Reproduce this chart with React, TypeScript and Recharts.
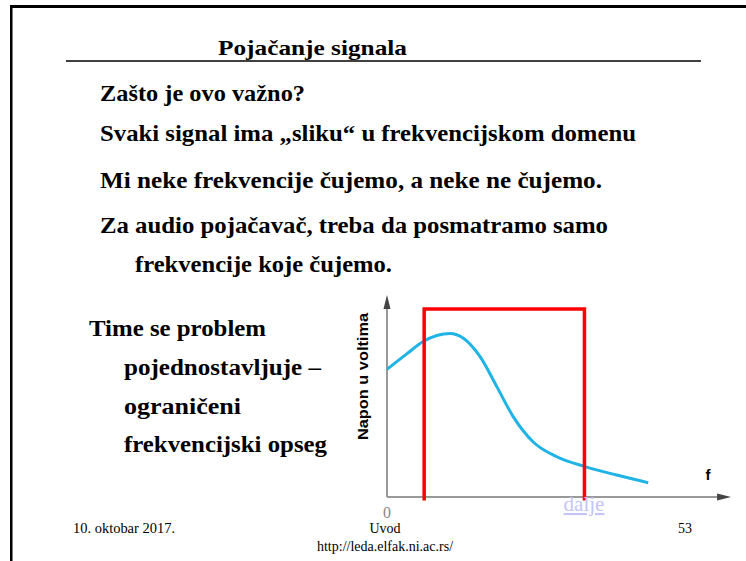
import React from 'react';
import { LineChart, Line, XAxis, YAxis, ReferenceLine, ReferenceDot } from 'recharts';

// Frequency response curve (arbitrary units: x 0..100, y 0..100)
const curveFreq = [0, 5.8, 10.7, 18.5, 22.4, 27.3, 32.2, 37, 42.8, 49.8, 58.1, 67.4, 76.6];
const curveVolt = [63.5, 71.2, 77.5, 81.4, 79, 69.8, 54.9, 40, 27.5, 20, 15.1, 10.9, 7.1];

// Audible band marker (red open rectangle)
const bandFreq = [10.9, 10.9, 57.9, 57.9];
const bandLevel = [-1.8, 93.5, 93.5, -1.8];

const xTicks = [0];

const bodyLines = [
  'Zašto je ovo važno?',
  'Svaki signal ima „sliku“ u frekvencijskom domenu',
  'Mi neke frekvencije čujemo, a neke ne čujemo.',
  'Za audio pojačavač, treba da posmatramo samo',
  'frekvencije koje čujemo.',
];
const sideLines = ['Time se problem', 'pojednostavljuje –', 'ograničeni', 'frekvencijski opseg'];

const curveData = curveFreq.map((f, i) => ({ f, v: curveVolt[i] }));
const bandData = bandFreq.map((f, i) => ({ f, v: bandLevel[i] }));

const SERIF = '"Liberation Serif", "Times New Roman", serif';
const SANS = '"Liberation Sans", Arial, sans-serif';

const UpArrow = (p: any) => (
  <polygon points={`${p.cx},${p.cy - 14} ${p.cx - 3.5},${p.cy} ${p.cx + 3.5},${p.cy}`} fill="#444" />
);
const RightArrow = (p: any) => (
  <polygon points={`${p.cx + 14},${p.cy} ${p.cx},${p.cy - 3.5} ${p.cx},${p.cy + 3.5}`} fill="#444" />
);

export default function App() {
  const bodyX = [100, 100, 100, 100, 135];
  const bodyY = [101, 141, 188, 233, 272];
  const bodyW = [205, 536, 502, 508, 257];
  const sideX = [89, 124, 124, 124];
  const sideY = [336, 375, 414, 452];
  const sideW = [177, 197, 117, 203];
  return (
    <div style={{ position: 'absolute', left: 0, top: 0, width: 746, height: 561, background: '#fff' }}>
      <div style={{ position: 'absolute', left: 0, top: 0 }}>
        <LineChart
          width={746}
          height={561}
          margin={{ top: 296, right: 18, bottom: 30, left: 387 }}
        >
          <XAxis
            dataKey="f"
            type="number"
            domain={[0, 100]}
            ticks={xTicks}
            height={30}
            axisLine={false}
            tickLine={false}
            tickMargin={0}
            tick={{ fill: '#888', fontSize: 16, fontFamily: SERIF }}
            allowDataOverflow
          />
          <YAxis type="number" domain={[-2, 100]} hide allowDataOverflow />
          <ReferenceLine
            segment={[{ x: 0, y: 0 }, { x: 96.8, y: 0 }]}
            stroke="#999"
            strokeWidth={2}
            ifOverflow="visible"
          />
          <ReferenceLine
            segment={[{ x: 0, y: 0 }, { x: 0, y: 93.5 }]}
            stroke="#999"
            strokeWidth={2}
            ifOverflow="visible"
          />
          <ReferenceDot x={96.8} y={0} r={4} shape={RightArrow} ifOverflow="visible" />
          <ReferenceDot x={0} y={93.5} r={4} shape={UpArrow} ifOverflow="visible" />
          <Line
            data={curveData}
            dataKey="v"
            type="monotone"
            stroke="#1fb3e6"
            strokeWidth={3}
            dot={false}
            isAnimationActive={false}
          />
          <Line
            data={bandData}
            dataKey="v"
            type="linear"
            stroke="#ff0000"
            strokeWidth={3.5}
            strokeLinejoin="miter"
            dot={false}
            isAnimationActive={false}
          />
        </LineChart>
      </div>
      <svg
        width={746}
        height={561}
        style={{ position: 'absolute', left: 0, top: 0, pointerEvents: 'none' }}
      >
        <rect x={10} y={5} width={736} height={3} fill="#000" />
        <rect x={10} y={5} width={2.5} height={556} fill="#000" />
        <text x={218} y={55} fontFamily={SERIF} fontWeight="bold" fontSize={22} fill="#000" textLength={189} lengthAdjust="spacingAndGlyphs">
          Pojačanje signala
        </text>
        <line x1={66} y1={61} x2={701} y2={61} stroke="#000" strokeWidth={1.5} />
        {bodyLines.map((t, i) => (
          <text key={t} x={bodyX[i]} y={bodyY[i]} fontFamily={SERIF} fontWeight="bold" fontSize={23} fill="#000" textLength={bodyW[i]} lengthAdjust="spacingAndGlyphs">
            {t}
          </text>
        ))}
        {sideLines.map((t, i) => (
          <text key={t} x={sideX[i]} y={sideY[i]} fontFamily={SERIF} fontWeight="bold" fontSize={23} fill="#000" textLength={sideW[i]} lengthAdjust="spacingAndGlyphs">
            {t}
          </text>
        ))}
        <text
          x={0}
          y={0}
          transform="translate(368,376.5) rotate(-90)"
          textAnchor="middle"
          fontFamily={SANS}
          fontWeight="bold"
          fontSize={15}
          fill="#000"
          textLength={127}
          lengthAdjust="spacingAndGlyphs"
        >
          Napon u voltima
        </text>
        <text x={708} y={480} textAnchor="middle" fontFamily={SANS} fontWeight="bold" fontSize={15} fill="#000">
          f
        </text>
        <text x={584} y={511} textAnchor="middle" fontFamily={SERIF} fontSize={21} fill="#c4c4f8" textDecoration="underline">
          dalje
        </text>
        <text x={73} y={533} fontFamily={SERIF} fontSize={14} fill="#000" textLength={102} lengthAdjust="spacingAndGlyphs">10. oktobar 2017.</text>
        <text x={385} y={533} textAnchor="middle" fontFamily={SERIF} fontSize={14} fill="#000">Uvod</text>
        <text x={685} y={533} textAnchor="middle" fontFamily={SERIF} fontSize={14} fill="#000">53</text>
        <text x={385} y={551} textAnchor="middle" fontFamily={SERIF} fontSize={14} fill="#000">
          http://leda.elfak.ni.ac.rs/
        </text>
      </svg>
    </div>
  );
}
